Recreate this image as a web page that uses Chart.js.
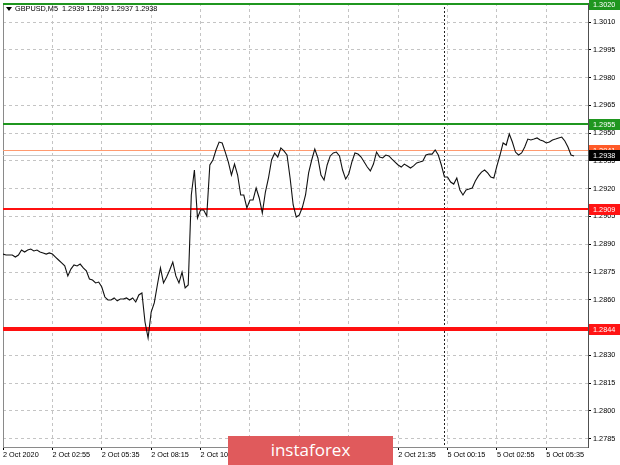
<!DOCTYPE html>
<html>
<head>
<meta charset="utf-8">
<script src="https://cdn.jsdelivr.net/npm/chart.js@4/dist/chart.umd.min.js"></script>
<style>
  body { margin: 0; background: #fff; }
  #wrap { position: relative; width: 620px; height: 465px; overflow: hidden; }
  #logo {
    position: absolute; left: 228px; top: 436px; width: 165px; height: 29px;
    background: #e05a5c; color: #fff; font: 17px 'Open Sans', sans-serif;
    text-align: center; line-height: 28px;
  }
</style>
</head>
<body>
<div id="wrap">
  <canvas id="chart" width="620" height="465"></canvas>
  <div id="logo">instaforex</div>
</div>
<script>
const symbol = 'GBPUSD,M5'
const lastBar = ['1.2939', '1.2939', '1.2937', '1.2938']

// M5 closes, one value every two bars
const prices = [
  1.28847, 1.28842, 1.28842, 1.28842, 1.28831, 1.28842, 1.28869, 1.28858, 1.28869, 1.28874,
  1.28864, 1.28869, 1.28858, 1.28853, 1.28847, 1.28853, 1.28847, 1.28831, 1.28815, 1.28799,
  1.28783, 1.28729, 1.28766, 1.28788, 1.28783, 1.28793, 1.28772, 1.28756, 1.28712, 1.28707,
  1.28691, 1.28696, 1.28669, 1.28615, 1.28599, 1.28599, 1.28610, 1.28594, 1.28604, 1.28604,
  1.28610, 1.28599, 1.28610, 1.28588, 1.28626, 1.28637, 1.28480, 1.28394, 1.28534, 1.28583,
  1.28680, 1.28772, 1.28691, 1.28723, 1.28761, 1.28804, 1.28729, 1.28691, 1.28750, 1.28664,
  1.28680, 1.29166, 1.29301, 1.29042, 1.29085, 1.29085, 1.29053, 1.29328, 1.29355, 1.29409,
  1.29452, 1.29447, 1.29398, 1.29344, 1.29274, 1.29333, 1.29274, 1.29166, 1.29166, 1.29096,
  1.29139, 1.29139, 1.29204, 1.29150, 1.29069, 1.29182, 1.29258, 1.29355, 1.29393, 1.29371,
  1.29420, 1.29404, 1.29382, 1.29258, 1.29112, 1.29047, 1.29058, 1.29101, 1.29166, 1.29285,
  1.29355, 1.29414, 1.29366, 1.29274, 1.29247, 1.29328, 1.29377, 1.29393, 1.29398, 1.29377,
  1.29301, 1.29252, 1.29279, 1.29344, 1.29393, 1.29387, 1.29371, 1.29344, 1.29317, 1.29296,
  1.29333, 1.29398, 1.29371, 1.29366, 1.29382, 1.29377, 1.29360, 1.29344, 1.29328, 1.29317,
  1.29333, 1.29323, 1.29312, 1.29323, 1.29339, 1.29344, 1.29350, 1.29382, 1.29387, 1.29387,
  1.29409, 1.29382, 1.29328, 1.29263, 1.29263, 1.29236, 1.29225, 1.29258, 1.29193, 1.29166,
  1.29193, 1.29198, 1.29204, 1.29242, 1.29269, 1.29290, 1.29301, 1.29285, 1.29263, 1.29258,
  1.29323, 1.29382, 1.29447, 1.29436, 1.29495, 1.29452, 1.29398, 1.29382, 1.29393, 1.29425,
  1.29468, 1.29463, 1.29468, 1.29474, 1.29463, 1.29458, 1.29447, 1.29452, 1.29463, 1.29468,
  1.29474, 1.29479, 1.29458, 1.29425, 1.29382, 1.29377
]

const timeLabels = [
  '2 Oct 2020', '2 Oct 02:55', '2 Oct 05:35', '2 Oct 08:15', '2 Oct 10:55', '2 Oct 13:35',
  '2 Oct 16:15', '2 Oct 18:55', '2 Oct 21:35', '5 Oct 00:15', '5 Oct 02:55', '5 Oct 05:35'
]
const pointsPerLabel = 16
const weekOpenIndex = 143

const priceTicks = [
  1.3010, 1.2995, 1.2980, 1.2965, 1.2950, 1.2935, 1.2920, 1.2905,
  1.2890, 1.2875, 1.2860, 1.2845, 1.2830, 1.2815, 1.2800, 1.2785
]

const greenLevels = [1.3020, 1.2955]
const redLevels = [1.2909, 1.2844]
const askLevel = 1.2941
const bidLevel = 1.2938

const font = "'Liberation Sans', Arial, sans-serif"

function hline(ctx, x1, x2, y) {
    ctx.beginPath()
    ctx.moveTo(x1, y)
    ctx.lineTo(x2, y)
    ctx.stroke()
}

function priceBox(ctx, chart, value, bg, fg) {
    const y = chart.scales.y.getPixelForValue(value)
    const x = chart.chartArea.right + 1
    ctx.fillStyle = bg
    ctx.fillRect(x, Math.round(y) - 5, 620 - x, 11)
    ctx.fillStyle = fg
    ctx.font = '7.3px ' + font
    ctx.textBaseline = 'middle'
    ctx.textAlign = 'left'
    ctx.fillText(value.toFixed(4), x + 4, Math.round(y) + 0.5)
}

const levelPlugin = {
    id: 'levels',
    beforeDatasetsDraw(chart) {
        const {ctx, chartArea: a, scales: {x, y}} = chart
        ctx.save()
        // frame
        ctx.strokeStyle = '#8a8a8a'
        ctx.lineWidth = 1
        ctx.beginPath()
        ctx.moveTo(a.left + 0.5, a.top)
        ctx.lineTo(a.left + 0.5, a.bottom)
        ctx.stroke()
        // week separator
        const sx = Math.round(x.getPixelForValue(weekOpenIndex)) + 0.5
        ctx.strokeStyle = '#202020'
        ctx.setLineDash([2, 2])
        ctx.beginPath()
        ctx.moveTo(sx, a.top)
        ctx.lineTo(sx, a.bottom)
        ctx.stroke()
        ctx.setLineDash([])
        // bid / ask
        ctx.strokeStyle = '#c8c8c8'
        hline(ctx, a.left, a.right, Math.round(y.getPixelForValue(bidLevel)) + 0.5)
        ctx.strokeStyle = '#ff9a70'
        hline(ctx, a.left, a.right, Math.round(y.getPixelForValue(askLevel)) + 0.5)
        // levels
        ctx.strokeStyle = '#1f961f'
        ctx.lineWidth = 2
        greenLevels.forEach(function (v) {hline(ctx, a.left, a.right, Math.round(y.getPixelForValue(v)))})
        ctx.strokeStyle = '#ff1010'
        hline(ctx, a.left, a.right, Math.round(y.getPixelForValue(redLevels[0])))
        ctx.lineWidth = 4
        hline(ctx, a.left, a.right, Math.round(y.getPixelForValue(redLevels[1])))
        ctx.restore()
    },
    afterDraw(chart) {
        const {ctx, chartArea: a} = chart
        ctx.save()
        greenLevels.forEach(function (v) {priceBox(ctx, chart, v, '#1f961f', '#fff')})
        redLevels.forEach(function (v) {priceBox(ctx, chart, v, '#ff1414', '#fff')})
        priceBox(ctx, chart, askLevel, '#ff5a28', '#fff')
        priceBox(ctx, chart, bidLevel, '#000', '#fff')
        // header
        ctx.fillStyle = '#000'
        ctx.beginPath()
        ctx.moveTo(a.left + 3, a.top + 4)
        ctx.lineTo(a.left + 9, a.top + 4)
        ctx.lineTo(a.left + 6, a.top + 8)
        ctx.closePath()
        ctx.fill()
        ctx.font = '7.3px ' + font
        ctx.textBaseline = 'middle'
        ctx.textAlign = 'left'
        ctx.fillText(symbol + '  ' + lastBar.join(' '), a.left + 12, a.top + 6)
        ctx.restore()
    }
}

const config = {
    type: 'line',
    data: {
        datasets: [{
            data: prices.map(function (p, i) {return {x: i, y: p}}),
            borderColor: '#111',
            borderWidth: 1.1,
            pointRadius: 0,
            tension: 0,
        }]
    },
    options: {
        responsive: false,
        animation: false,
        devicePixelRatio: 1,
        layout: {padding: {left: 3, top: 3, right: 0, bottom: 0}},
        plugins: {legend: {display: false}, tooltip: {enabled: false}},
        scales: {
            x: {
                type: 'linear',
                min: 0,
                max: 189.5,
                afterBuildTicks: function (scale) {
                    scale.ticks = timeLabels.map(function (l, k) {return {value: k * pointsPerLabel}})
                },
                afterFit: function (scale) {
                    scale.height = 18
                    scale.paddingLeft = 0
                    scale.paddingRight = 0
                },
                ticks: {
                    autoSkip: false,
                    maxRotation: 0,
                    align: 'start',
                    padding: 1,
                    color: '#000',
                    font: {family: font, size: 7.3},
                    callback: function (v, i) {return timeLabels[i]},
                },
                grid: {color: '#c4c4c4', tickLength: 3, tickColor: '#000', tickBorderDash: []},
                border: {display: true, color: '#8a8a8a', dash: [3, 3]},
            },
            y: {
                position: 'right',
                min: 1.27805,
                max: 1.30203,
                afterBuildTicks: function (scale) {
                    scale.ticks = priceTicks.map(function (v) {return {value: v}})
                },
                afterFit: function (scale) {
                    scale.width = 32
                    scale.paddingTop = 0
                    scale.paddingBottom = 0
                },
                ticks: {
                    padding: 2,
                    color: '#000',
                    font: {family: font, size: 7.3},
                    callback: function (v) {return v.toFixed(4)},
                },
                grid: {color: '#c4c4c4', tickLength: 3, tickColor: '#000', tickBorderDash: []},
                border: {display: true, color: '#505050', dash: [3, 3]},
            },
        },
    },
    plugins: [levelPlugin],
}

const chart = new Chart(document.querySelector('#chart'), config)
</script>
</body>
</html>
